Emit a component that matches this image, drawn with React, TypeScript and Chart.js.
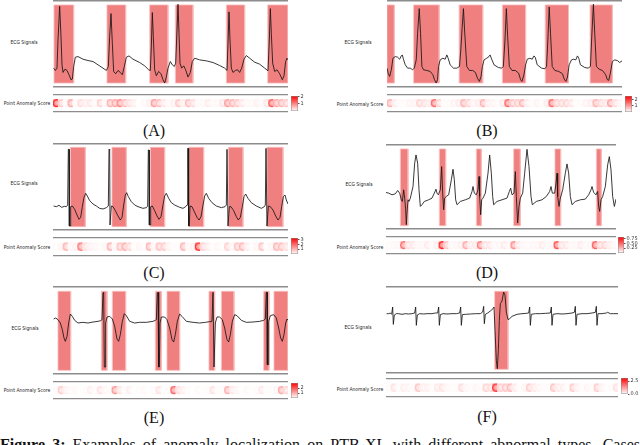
import React, { useEffect, useRef } from 'react';
import { Chart, registerables } from 'chart.js';
Chart.register(...registerables);

type Pt = [number, number];

// ---------- ECG traces (time sample, amplitude) ----------
const ecgA: Pt[] = [[2,57],[7,50],[12,57],[15,142],[20,244],[24,152],[27,67],[30,44],[36,54],[42,50],[48,37],[54,22],[58,24],[62,62],[67,90],[75,92],[90,84],[105,80],[120,77],[135,67],[150,57],[160,50],[166,62],[170,152],[174,222],[178,132],[182,47],[188,40],[195,50],[202,44],[208,37],[214,62],[220,90],[228,94],[240,84],[260,74],[275,64],[287,52],[292,50],[295,122],[298,225],[301,152],[305,52],[310,34],[317,47],[324,40],[330,22],[335,12],[340,30],[345,57],[352,77],[358,67],[364,62],[368,72],[372,172],[375,250],[378,162],[381,72],[386,57],[392,64],[398,52],[405,30],[412,44],[418,77],[425,87],[440,82],[460,79],[480,74],[500,65],[515,57],[522,50],[525,132],[528,227],[531,142],[535,57],[540,44],[547,50],[554,52],[560,44],[566,57],[573,84],[580,95],[590,87],[605,75],[620,69],[635,57],[645,49],[649,142],[652,237],[655,162],[659,72],[665,47],[672,52],[680,40],[688,22],[693,34],[698,77],[702,87],[705,82]];
const ecgB: Pt[] = [[0,57],[4,40],[8,32],[13,52],[18,87],[25,92],[32,90],[38,84],[43,94],[46,97],[50,82],[55,67],[62,57],[70,57],[77,52],[82,57],[88,82],[92,162],[97,237],[101,162],[105,62],[110,52],[120,50],[130,47],[138,37],[143,22],[148,12],[152,22],[155,62],[160,82],[168,87],[175,84],[180,97],[184,87],[190,67],[200,57],[210,57],[218,62],[222,112],[226,177],[230,237],[234,162],[240,62],[248,50],[258,50],[266,44],[272,27],[278,17],[283,32],[287,62],[292,82],[300,87],[307,92],[310,97],[315,84],[322,67],[335,59],[345,57],[350,62],[355,142],[359,237],[363,152],[368,62],[376,50],[386,50],[396,42],[402,22],[406,17],[412,37],[417,67],[422,84],[430,87],[437,84],[442,94],[446,90],[452,67],[465,57],[475,55],[480,62],[484,142],[488,242],[492,162],[497,62],[505,50],[517,47],[528,40],[533,24],[538,17],[543,30],[548,67],[555,82],[562,84],[568,82],[573,94],[577,87],[582,67],[595,59],[605,57],[612,62],[616,152],[621,250],[625,162],[630,62],[638,54],[648,50],[658,37],[663,22],[667,20],[672,42],[678,77],[685,82],[693,80],[700,74],[707,79]];
const ecgC: Pt[] = [[2,72],[10,70],[18,74],[26,68],[34,71],[40,70],[44,75],[46,242],[48,242],[49,12],[51,12],[53,70],[58,72],[65,62],[72,45],[78,32],[83,38],[88,70],[93,98],[98,110],[103,102],[110,88],[120,78],[130,72],[140,65],[150,63],[160,67],[166,72],[168,242],[170,240],[171,15],[173,15],[175,72],[180,70],[187,58],[195,42],[202,30],[207,38],[212,75],[217,105],[221,112],[226,100],[235,85],[245,75],[255,70],[270,65],[280,67],[284,72],[286,240],[288,240],[289,15],[291,15],[293,70],[298,72],[305,58],[312,42],[318,32],[324,40],[330,75],[335,102],[340,110],[347,95],[355,82],[365,75],[380,68],[390,65],[398,70],[402,75],[404,245],[406,245],[407,12],[409,12],[411,72],[417,70],[424,55],[432,38],[438,30],[444,40],[450,75],[455,102],[460,110],[467,95],[477,82],[490,72],[505,67],[516,70],[520,75],[522,242],[524,242],[525,12],[527,12],[529,70],[534,70],[542,58],[550,40],[556,30],[562,38],[568,70],[573,100],[578,108],[585,95],[595,82],[610,72],[625,65],[634,70],[637,75],[639,245],[641,245],[642,12],[644,12],[646,72],[652,70],[660,60],[668,42],[675,30],[681,38],[686,70],[691,100],[696,105],[700,90],[705,78]];
const ecgD: Pt[] = [[0,110],[8,108],[18,103],[28,106],[35,116],[41,108],[46,88],[49,83],[53,118],[56,93],[59,58],[61,13],[63,48],[66,88],[69,83],[73,93],[81,128],[86,198],[90,223],[95,198],[99,118],[103,68],[108,73],[115,83],[128,88],[138,93],[145,108],[150,120],[153,108],[157,103],[163,118],[167,188],[170,108],[173,58],[176,93],[181,98],[188,103],[196,148],[201,180],[205,148],[209,88],[213,73],[223,83],[238,88],[251,93],[258,113],[261,128],[265,108],[271,103],[276,118],[279,158],[281,98],[284,43],[287,88],[291,93],[298,108],[306,168],[311,223],[316,168],[320,98],[323,73],[333,83],[348,88],[363,93],[370,113],[374,123],[378,103],[384,108],[388,173],[391,98],[395,18],[399,68],[403,93],[410,108],[416,168],[423,240],[429,188],[435,98],[439,73],[451,83],[468,88],[481,98],[491,113],[495,128],[499,108],[506,108],[510,138],[513,168],[515,98],[519,68],[523,93],[530,118],[538,168],[543,196],[548,168],[553,98],[558,73],[568,83],[583,88],[598,90],[608,103],[615,118],[618,128],[623,110],[630,103],[635,113],[638,68],[641,53],[645,88],[650,98],[658,128],[665,193],[670,218],[675,178],[680,98],[685,68],[690,90]];
const ecgE: Pt[] = [[2,165],[8,168],[15,163],[22,153],[28,133],[33,108],[37,98],[42,113],[47,153],[52,180],[58,173],[65,161],[75,153],[90,155],[105,153],[120,156],[135,158],[143,160],[147,163],[150,243],[152,245],[154,21],[156,21],[158,153],[162,171],[170,173],[178,165],[185,143],[192,105],[197,98],[202,118],[208,158],[214,181],[220,175],[230,158],[245,153],[260,155],[280,155],[300,158],[307,161],[310,163],[313,243],[315,245],[317,21],[319,21],[321,153],[325,171],[335,171],[342,163],[350,138],[357,103],[362,96],[367,118],[373,158],[380,180],[387,173],[400,158],[420,155],[440,153],[458,155],[470,157],[477,158],[480,245],[482,245],[483,21],[485,21],[487,153],[492,171],[500,171],[508,163],[515,138],[522,103],[527,96],[532,118],[538,158],[545,178],[552,175],[565,161],[580,155],[600,156],[620,158],[632,161],[637,165],[640,245],[642,245],[643,28],[645,28],[647,158],[652,175],[662,178],[670,168],[677,138],[683,108],[688,98],[693,118],[698,153],[702,165],[705,161]];
const ecgF: Pt[] = [[2,178],[8,178],[13,180],[17,176],[20,198],[22,146],[25,174],[31,178],[38,178],[48,176],[58,178],[68,177],[78,178],[86,180],[89,198],[91,143],[94,174],[101,178],[113,177],[123,178],[138,178],[148,180],[155,180],[158,198],[160,143],[163,175],[171,178],[183,177],[198,178],[211,178],[221,180],[224,198],[226,143],[229,175],[238,176],[253,177],[268,178],[283,178],[290,183],[293,200],[295,148],[298,176],[305,180],[313,186],[321,193],[324,198],[327,128],[331,38],[334,13],[337,68],[340,158],[343,208],[348,216],[353,243],[357,233],[361,183],[366,160],[371,163],[378,170],[393,176],[408,178],[421,179],[428,180],[431,198],[433,143],[436,176],[448,178],[463,178],[478,179],[493,180],[496,198],[498,143],[501,176],[513,178],[528,177],[543,178],[558,180],[565,182],[568,200],[570,143],[573,176],[588,178],[603,178],[618,180],[628,182],[631,200],[633,143],[636,178],[648,178],[661,180],[665,182],[673,178],[683,178],[696,178]];

// ---------- anomalous segments (start, end) ----------
const segA: Pt[] = [[3,62],[162,218],[290,345],[367,420],[520,575],[644,705]];
const segB: Pt[] = [[0,22],[80,157],[217,288],[347,417],[476,546],[611,678]];
const segC: Pt[] = [[52,97],[177,220],[292,335],[408,452],[526,570],[642,690]];
const segD: Pt[] = [[43,66],[160,179],[271,286],[383,403],[507,524],[631,646]];
const segE: Pt[] = [[15,53],[145,162],[178,218],[307,325],[342,380],[468,485],[505,543],[632,648],[663,705]];
const segF: Pt[] = [[326,366]];

// ---------- point anomaly scores ----------
const scoreA = [2.0,0.6,0.1,0.9,0.1,0.4,0.25,0.3,0.1,0.5,0.1,0.8,0.9,1.2,0.7,0.4,0.2,0,0.1,0.2,1.0,0.7,0.3,0.1,0.2,0.6,0.2,0.7,0.4,0.1,0.1,0.25,0.1,0.1,0.3,1.0,0.8,0.6,0.3,0.1,0.1,0.2,0.1,0.3,1.6,0.9,0.8,0.6];
const scoreB = [1.0,0.3,0.1,0.1,0.2,0.2,0.6,0.5,0.3,1.8,0.6,0.1,0.1,0.2,0.3,1.0,0.6,0.2,0.3,1.0,0.3,0.2,0.1,0.3,1.8,0.8,0.7,1.0,0.3,0.1,0.2,0.1,0.3,1.8,0.7,0.6,0.6,0.4,0.1,0.1,0.2,0.3,1.0,0.6,0.4,1.2,0.5,0.2];
const scoreC = [0.1,0.2,1.2,0.2,0.3,2.0,0.6,0.3,0.2,0.1,0.2,1.2,0.2,1.0,1.3,0.7,0.1,0.2,0.1,1.2,0.2,1.0,0.9,0.3,0.1,0.1,1.2,0.2,0.3,3.0,0.8,0.4,0.1,0.2,0.1,0.8,0.2,1.0,1.2,0.4,0.1,0.2,1.0,0.1,0.2,1.2,1.1,0.6];
const scoreD = [0.03,0.05,0.05,0.55,0.15,0.12,0.05,0.05,0.1,0.03,0.08,0.8,0.25,0.05,0.05,0.08,0.35,0.1,0.1,0.5,0.15,0.12,0.05,0.05,0.1,0.05,0.45,0.12,0.05,0.03,0.05,0.05,0.1,0.05,0.05,0.65,0.15,0.12,0.05,0.05,0.1,0.05,0.05,0.6,0.2,0.2,0.1,0.05];
const scoreE = [0.1,0.8,0.3,0.1,0.15,0.05,0.1,0.3,0.1,0.5,0.2,0.1,1.5,0.5,0.1,0.3,0.05,0.1,0.15,0.05,0.1,0.5,0.1,0.1,2.2,0.6,0.3,0.1,0.05,0.15,0.05,0.1,0.5,0.1,0.1,1.2,0.4,0.2,0.05,0.15,0.05,0.1,0.4,0.1,0.1,0.2,1.3,0.7];
const scoreF = [0.1,0.5,0.1,0.3,0.25,0.1,0.9,0.3,0.3,0.1,0.4,0.5,0.2,0.1,0.1,0.6,0.2,0.1,0.2,0.1,0.7,0.6,2.8,0.8,0.9,1.1,0.4,0.1,0.2,0.8,0.4,0.2,0.1,0.1,0.9,0.4,0.3,0.1,0.8,0.3,0.1,0.2,0.1,0.8,0.3,0.1,0.1,0.5];

// ---------- colorbar ranges & ticks ----------
const cbRangeA: Pt = [0, 2.1]; const cbTicksA = [1, 2]; const cbLabelsA = ['1', '2'];
const cbRangeB: Pt = [0, 2.6]; const cbTicksB = [1, 2]; const cbLabelsB = ['1', '2'];
const cbRangeC: Pt = [0, 3.3]; const cbTicksC = [1, 2, 3]; const cbLabelsC = ['1', '2', '3'];
const cbRangeD: Pt = [0, 0.83]; const cbTicksD = [0.25, 0.5, 0.75]; const cbLabelsD = ['0.25', '0.50', '0.75'];
const cbRangeE: Pt = [0, 3.05]; const cbTicksE = [1, 2]; const cbLabelsE = ['1', '2'];
const cbRangeF: Pt = [0, 3.1]; const cbTicksF = [0, 2.5]; const cbLabelsF = ['0.0', '2.5'];

const captions = ['(A)', '(B)', '(C)', '(D)', '(E)', '(F)'];
const ecgLabel = 'ECG Signals';
const scoreLabel = 'Point Anomaly Score';
const figureCaptionBold = 'Figure 3:';
const figureCaptionText = ' Examples of anomaly localization on PTB-XL with different abnormal types. Cases';

type Box = { l: number; t: number; r: number; b: number };
type Panel = {
  ecg: Pt[]; segs: Pt[]; scores: number[]; range: Pt; ticks: number[]; labels: string[];
  xMax: number; yMax: number; band: Pt;
  ecgBox: Box; stripBox: Box; cbBox: Box;
  ecgLab: Pt; scoreLab: Pt; cap: Pt; caption: string;
};

const panels: Panel[] = [
  { ecg: ecgA, segs: segA, scores: scoreA, range: cbRangeA, ticks: cbTicksA, labels: cbLabelsA, xMax: 705, yMax: 260, band: [12, 248],
    ecgBox: { l: 53, t: 1, r: 288, b: 87 }, stripBox: { l: 53, t: 95, r: 288, b: 112 }, cbBox: { l: 291, t: 95, r: 298, b: 112 },
    ecgLab: [24, 42], scoreLab: [26.5, 103], cap: [154, 130.5], caption: captions[0] },
  { ecg: ecgB, segs: segB, scores: scoreB, range: cbRangeB, ticks: cbTicksB, labels: cbLabelsB, xMax: 707, yMax: 260, band: [12, 248],
    ecgBox: { l: 387, t: 1, r: 622, b: 87 }, stripBox: { l: 387, t: 95, r: 622, b: 112 }, cbBox: { l: 625, t: 95, r: 632, b: 113 },
    ecgLab: [358, 42], scoreLab: [360, 104], cap: [487, 130.5], caption: captions[1] },
  { ecg: ecgC, segs: segC, scores: scoreC, range: cbRangeC, ticks: cbTicksC, labels: cbLabelsC, xMax: 705, yMax: 258, band: [10, 248],
    ecgBox: { l: 53, t: 144, r: 288, b: 230 }, stripBox: { l: 53, t: 238, r: 288, b: 256 }, cbBox: { l: 291, t: 237, r: 298, b: 255 },
    ecgLab: [24, 183], scoreLab: [26.5, 247], cap: [154, 272.5], caption: captions[2] },
  { ecg: ecgD, segs: segD, scores: scoreD, range: cbRangeD, ticks: cbTicksD, labels: cbLabelsD, xMax: 690, yMax: 253, band: [10, 241],
    ecgBox: { l: 386, t: 145, r: 616, b: 229 }, stripBox: { l: 386, t: 237, r: 616, b: 254 }, cbBox: { l: 618, t: 236, r: 624, b: 254 },
    ecgLab: [359, 184], scoreLab: [360, 247], cap: [487, 272.5], caption: captions[3] },
  { ecg: ecgE, segs: segE, scores: scoreE, range: cbRangeE, ticks: cbTicksE, labels: cbLabelsE, xMax: 705, yMax: 261, band: [11, 248],
    ecgBox: { l: 53, t: 287, r: 288, b: 374 }, stripBox: { l: 53, t: 382, r: 288, b: 399 }, cbBox: { l: 291, t: 382, r: 298, b: 399 },
    ecgLab: [24.5, 328], scoreLab: [26.5, 390], cap: [154, 418], caption: captions[4] },
  { ecg: ecgF, segs: segF, scores: scoreF, range: cbRangeF, ticks: cbTicksF, labels: cbLabelsF, xMax: 696, yMax: 258, band: [11, 245],
    ecgBox: { l: 386, t: 287, r: 618, b: 373 }, stripBox: { l: 386, t: 379, r: 618, b: 397 }, cbBox: { l: 621, t: 377, r: 628, b: 395 },
    ecgLab: [357.5, 327], scoreLab: [359.5, 388.5], cap: [487, 417], caption: captions[5] },
];

const SPINE = '#8c8c8c';
const RECT = 'rgb(240,128,128)';
const RECT_EDGE = 'rgb(248,185,185)';
const red = (f: number) => {
  const c = Math.round(255 * (1 - Math.max(0, Math.min(1, f))));
  return `rgb(255,${c},${c})`;
};

const spineAxis = (max: number, pos: 'top' | 'bottom', w: number) => ({
  type: 'linear' as const, position: pos, min: 0, max,
  ticks: { display: false }, grid: { display: false, drawTicks: false },
  border: { display: true, color: SPINE, width: w },
});

function EcgPlot({ p }: { p: Panel }) {
  const ref = useRef<HTMLCanvasElement>(null);
  const b = p.ecgBox;
  useEffect(() => {
    const datasets: any[] = [{
      data: p.ecg.map(([x, y]) => ({ x, y })),
      borderColor: '#151515', borderWidth: 0.85, pointRadius: 0, tension: 0, fill: false, order: 0,
    }];
    p.segs.forEach(([s, e]) => {
      // filled band
      datasets.push({
        data: [{ x: s, y: p.band[1] }, { x: e, y: p.band[1] }],
        borderWidth: 0, pointRadius: 0, tension: 0,
        fill: { value: p.band[0] }, backgroundColor: RECT, order: 2,
      });
      // pale outline
      datasets.push({
        data: [{ x: s, y: p.band[0] }, { x: s, y: p.band[1] }, { x: e, y: p.band[1] }, { x: e, y: p.band[0] }, { x: s, y: p.band[0] }],
        borderWidth: 0.8, borderColor: RECT_EDGE, pointRadius: 0, tension: 0, fill: false, order: 1,
      });
    });
    const chart = new Chart(ref.current!, {
      type: 'line',
      data: { datasets },
      options: {
        animation: false, responsive: false, events: [],
        layout: { padding: { top: 2, bottom: 2, left: 0, right: 0 } },
        plugins: { legend: { display: false }, tooltip: { enabled: false } },
        scales: {
          x: spineAxis(p.xMax, 'bottom', 1.5),
          x2: spineAxis(p.xMax, 'top', 1.5),
          y: { type: 'linear', display: false, min: 0, max: p.yMax },
        },
      } as any,
    });
    return () => chart.destroy();
  }, []);
  return <canvas ref={ref} width={Math.round(b.r - b.l)} height={Math.round(b.b - b.t) + 4}
    style={{ position: 'absolute', left: b.l, top: b.t - 2 }} />;
}

function Strip({ p }: { p: Panel }) {
  const ref = useRef<HTMLCanvasElement>(null);
  const b = p.stripBox;
  useEffect(() => {
    const max = p.range[1];
    const lo = 0.3, hi = 0.74;
    const chart = new Chart(ref.current!, {
      type: 'bar',
      data: {
        labels: p.scores.map((_, i) => String(i)),
        datasets: [{
          data: p.scores.map(() => [lo, hi]) as any,
          backgroundColor: (ctx: any) => {
            const ch = ctx.chart; const area = ch.chartArea;
            if (!area || ctx.type !== 'data') return 'rgba(0,0,0,0)';
            const f = Math.pow(p.scores[ctx.dataIndex] / max, 1.1);
            const xs = ch.scales.x; const ys = ch.scales.y;
            const cx = xs.getPixelForValue(ctx.dataIndex);
            const w = xs.getPixelForValue(1) - xs.getPixelForValue(0);
            const yt = ys.getPixelForValue(hi); const yb = ys.getPixelForValue(lo);
            const R = (yb - yt) / 2;
            const ox = cx - w / 2 + R; const oy = (yt + yb) / 2;
            const g = ch.ctx.createRadialGradient(ox, oy, 0, ox, oy, R * 1.1);
            g.addColorStop(0, red(f * 0.3));
            g.addColorStop(0.5, red(f * 0.45));
            g.addColorStop(0.85, red(f * 0.9));
            g.addColorStop(1, red(f * 0.55));
            return g;
          },
          borderWidth: 0, borderSkipped: false,
          borderRadius: { topLeft: 4, bottomLeft: 4, topRight: 0, bottomRight: 0 },
          barPercentage: 1, categoryPercentage: 1,
        }],
      },
      options: {
        animation: false, responsive: false, events: [],
        layout: { padding: { top: 2, bottom: 2, left: 0, right: 0 } },
        plugins: { legend: { display: false }, tooltip: { enabled: false } },
        scales: {
          x: { type: 'category', ticks: { display: false }, grid: { display: false, drawTicks: false }, border: { display: true, color: SPINE, width: 1.2 } },
          x2: spineAxis(1, 'top', 1.2),
          y: { type: 'linear', display: false, min: 0, max: 1 },
        },
      } as any,
    });
    return () => chart.destroy();
  }, []);
  return <canvas ref={ref} width={Math.round(b.r - b.l)} height={Math.round(b.b - b.t) + 4}
    style={{ position: 'absolute', left: b.l, top: b.t - 2 }} />;
}

function ColorBar({ p }: { p: Panel }) {
  const ref = useRef<HTMLCanvasElement>(null);
  const b = p.cbBox;
  const AX = 22;
  useEffect(() => {
    const chart = new Chart(ref.current!, {
      type: 'bar',
      data: {
        labels: ['cb'],
        datasets: [{
          data: [p.range] as any,
          backgroundColor: (ctx: any) => {
            const area = ctx.chart.chartArea;
            if (!area) return '#fff';
            const g = ctx.chart.ctx.createLinearGradient(0, area.bottom, 0, area.top);
            g.addColorStop(0, red(0));
            g.addColorStop(1, red(1));
            return g;
          },
          borderColor: '#888', borderWidth: 0.8, borderSkipped: false,
          barPercentage: 1, categoryPercentage: 1,
        }],
      },
      options: {
        animation: false, responsive: false, events: [],
        layout: { padding: { top: 3, bottom: 3, left: 1, right: 0 } },
        plugins: { legend: { display: false }, tooltip: { enabled: false } },
        scales: {
          x: { display: false },
          y: {
            type: 'linear', position: 'right', min: p.range[0], max: p.range[1],
            afterBuildTicks: (a: any) => { a.ticks = p.ticks.map((v) => ({ value: v })); },
            afterFit: (a: any) => { a.width = AX; },
            ticks: { autoSkip: false, font: { size: 5, family: 'DejaVu Sans' }, color: '#333', padding: 1,
              callback: (_v: any, i: number) => p.labels[i] },
            grid: { drawOnChartArea: false, drawTicks: true, tickLength: 1.5, color: '#555' },
            border: { display: false },
          },
        },
      } as any,
    });
    return () => chart.destroy();
  }, []);
  return <canvas ref={ref} width={Math.round(b.r - b.l) + 1 + AX} height={Math.round(b.b - b.t) + 6}
    style={{ position: 'absolute', left: b.l - 1, top: b.t - 3 }} />;
}

const smallText = (txt: string, at: Pt, key: string) => (
  <div key={key} style={{
    position: 'absolute', left: at[0], top: at[1], whiteSpace: 'nowrap',
    fontFamily: 'DejaVu Sans, sans-serif', fontSize: 9, lineHeight: '10px', color: '#222',
    transform: 'translate(-50%, -50%) scale(0.5)',
  }}>{txt}</div>
);

export default function App() {
  return (
    <div style={{ position: 'fixed', left: 0, top: 0, width: 640, height: 445, overflow: 'hidden', background: '#fff' }}>
      {panels.map((p, i) => (
        <React.Fragment key={i}>
          <EcgPlot p={p} />
          <Strip p={p} />
          <ColorBar p={p} />
          {smallText(ecgLabel, p.ecgLab, 'e' + i)}
          {smallText(scoreLabel, p.scoreLab, 's' + i)}
          <div style={{
            position: 'absolute', left: p.cap[0], top: p.cap[1], transform: 'translate(-50%, -50%)',
            fontFamily: 'Liberation Serif, serif', fontSize: 16, lineHeight: '18px', color: '#111', whiteSpace: 'nowrap',
          }}>{p.caption}</div>
        </React.Fragment>
      ))}
      <div style={{
        position: 'absolute', left: 0, top: 436, width: 640, whiteSpace: 'nowrap',
        fontFamily: 'Liberation Serif, serif', fontSize: 16, lineHeight: '18px', color: '#111',
        textAlign: 'justify', textAlignLast: 'justify' as any,
      }}><b>{figureCaptionBold}</b>{figureCaptionText}</div>
    </div>
  );
}
